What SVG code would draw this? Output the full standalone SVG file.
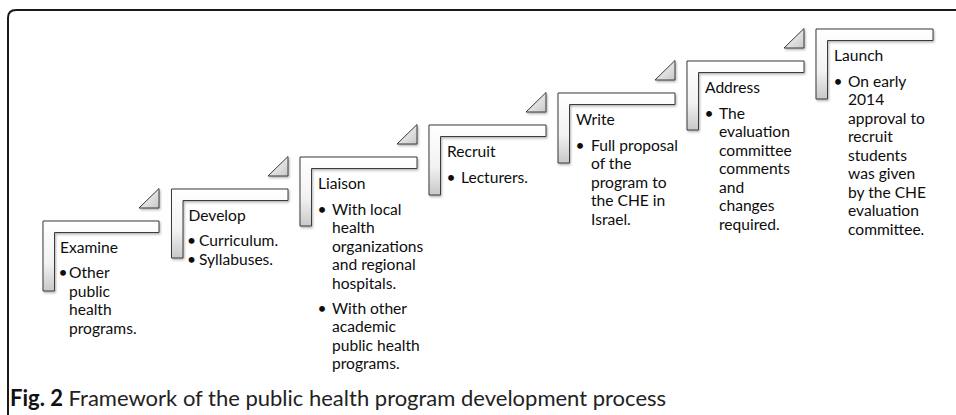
<svg xmlns="http://www.w3.org/2000/svg" width="956" height="415" viewBox="0 0 956 415">
<style>
.step{fill:url(#gL);stroke:#3a3a3a;stroke-width:1;filter:url(#sh)}
.tri{fill:url(#gT);stroke:#3a3a3a;stroke-width:1;filter:url(#sh)}
text{font-family:Lato,"Liberation Sans",sans-serif;fill:#0d0d0d}
.t{font-size:15.6px}
.b{font-size:15.6px;text-anchor:middle}
.cap{font-size:22px;fill:#222}
</style>
<defs>
<linearGradient id="gL" x1="0" y1="0" x2="0" y2="1">
<stop offset="0" stop-color="#ffffff"/><stop offset="0.6" stop-color="#f2f2f2"/><stop offset="1" stop-color="#c8c8c8"/>
</linearGradient>
<linearGradient id="gT" x1="0" y1="0" x2="1" y2="1">
<stop offset="0" stop-color="#ffffff"/><stop offset="1" stop-color="#c8c8c8"/>
</linearGradient>
<filter id="sh" x="-10%" y="-10%" width="130%" height="130%">
<feDropShadow dx="1" dy="1.5" stdDeviation="1" flood-color="#000" flood-opacity="0.3"/>
</filter>
</defs>
<rect width="956" height="415" fill="#fff"/>
<path d="M8,415 V18 Q8,10 16,10 H956" fill="none" stroke="#1a1a1a" stroke-width="2"/>

<g id="connectors">
<path class="tri" d="M139,208 L159,208 L159,188.5 Z"/>
<path class="tri" d="M268,176 L288,176 L288,156.5 Z"/>
<path class="tri" d="M397,144 L417,144 L417,124.5 Z"/>
<path class="tri" d="M526,112 L546,112 L546,92.5 Z"/>
<path class="tri" d="M655,80 L675,80 L675,60.5 Z"/>
<path class="tri" d="M784,48 L804,48 L804,28.5 Z"/>
</g>

<g id="examine">
<path class="step" d="M43,221 H159 V232.5 H54.5 V291 H43 Z"/>
<text class="t" x="60" y="252.5">Examine</text>
<text class="b" x="63" y="278">•</text>
<text class="t" x="69" y="278">Other</text>
<text class="t" x="69" y="296.5">public</text>
<text class="t" x="69" y="315">health</text>
<text class="t" x="69" y="333.5">programs.</text>
</g>

<g id="develop">
<path class="step" d="M171.5,189 H288 V200.5 H183 V258 H171.5 Z"/>
<text class="t" x="188.5" y="220.5">Develop</text>
<text class="b" x="191.5" y="246">•</text>
<text class="t" x="199" y="246">Curriculum.</text>
<text class="b" x="191.5" y="264.5">•</text>
<text class="t" x="199" y="264.5">Syllabuses.</text>
</g>

<g id="liaison">
<path class="step" d="M300,157 H417 V168.5 H311.5 V226 H300 Z"/>
<text class="t" x="318" y="188.5">Liaison</text>
<text class="b" x="322" y="214.5">•</text>
<text class="t" x="332" y="214.5">With local</text>
<text class="t" x="332" y="233">health</text>
<text class="t" x="332" y="251.5">organizations</text>
<text class="t" x="332" y="270">and regional</text>
<text class="t" x="332" y="288.5">hospitals.</text>
<text class="b" x="322" y="313.5">•</text>
<text class="t" x="332" y="313.5">With other</text>
<text class="t" x="332" y="332">academic</text>
<text class="t" x="332" y="350.5">public health</text>
<text class="t" x="332" y="369">programs.</text>
</g>

<g id="recruit">
<path class="step" d="M429,125 H546 V136.5 H440.5 V195 H429 Z"/>
<text class="t" x="447" y="156.5">Recruit</text>
<text class="b" x="451" y="182.5">•</text>
<text class="t" x="461" y="182.5">Lecturers.</text>
</g>

<g id="write">
<path class="step" d="M558,93 H675 V104.5 H569.5 V163 H558 Z"/>
<text class="t" x="576" y="124.5">Write</text>
<text class="b" x="580" y="150.5">•</text>
<text class="t" x="591" y="150.5">Full proposal</text>
<text class="t" x="591" y="169">of the</text>
<text class="t" x="591" y="187.5">program to</text>
<text class="t" x="591" y="206">the CHE in</text>
<text class="t" x="591" y="224.5">Israel.</text>
</g>

<g id="address">
<path class="step" d="M687,61 H804 V72.5 H698.5 V130 H687 Z"/>
<text class="t" x="705" y="92.5">Address</text>
<text class="b" x="709" y="118.5">•</text>
<text class="t" x="719" y="118.5">The</text>
<text class="t" x="719" y="137">evaluation</text>
<text class="t" x="719" y="155.5">committee</text>
<text class="t" x="719" y="174">comments</text>
<text class="t" x="719" y="192.5">and</text>
<text class="t" x="719" y="211">changes</text>
<text class="t" x="719" y="229.5">required.</text>
</g>

<g id="launch">
<path class="step" d="M816,29 H933 V40.5 H827.5 V99 H816 Z"/>
<text class="t" x="834" y="60.5">Launch</text>
<text class="b" x="838" y="86.5">•</text>
<text class="t" x="848" y="86.5">On early</text>
<text class="t" x="848" y="105">2014</text>
<text class="t" x="848" y="123.5">approval to</text>
<text class="t" x="848" y="142">recruit</text>
<text class="t" x="848" y="160.5">students</text>
<text class="t" x="848" y="179">was given</text>
<text class="t" x="848" y="197.5">by the CHE</text>
<text class="t" x="848" y="216">evaluation</text>
<text class="t" x="848" y="234.5">committee.</text>
</g>

<text class="cap" x="10" y="406"><tspan font-weight="bold" fill="#111">Fig. 2</tspan> Framework of the public health program development process</text>
</svg>
